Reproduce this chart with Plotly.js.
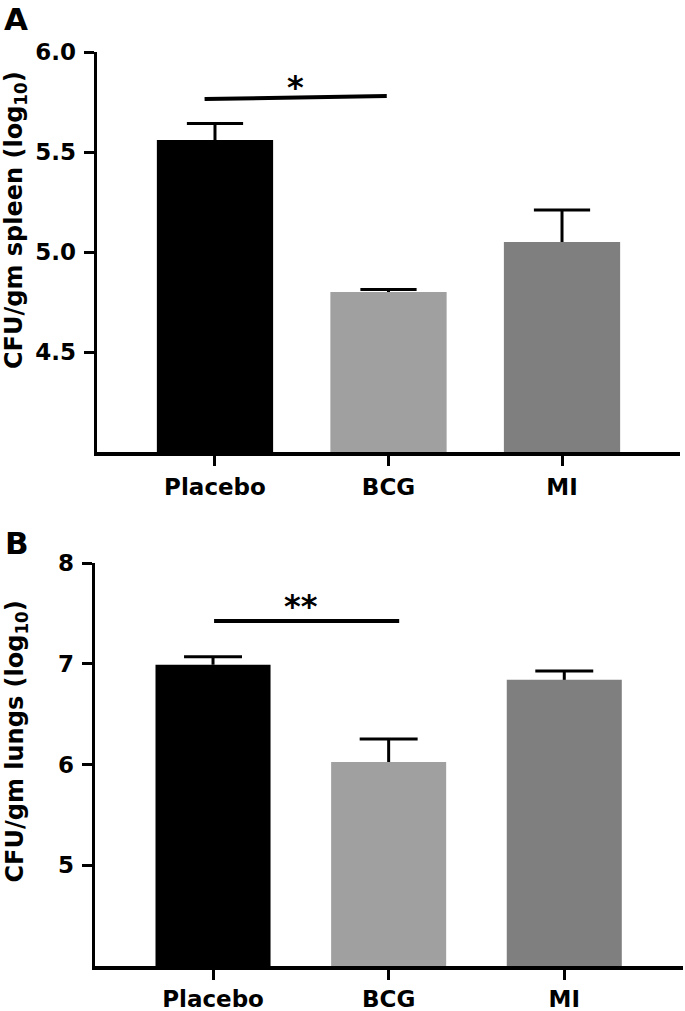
<!DOCTYPE html>
<html>
<head>
<meta charset="utf-8">
<script src="https://cdn.plot.ly/plotly-3.0.1.min.js"></script>
<style>html,body{margin:0;padding:0;background:#fff;}#chart{width:685px;height:1011px;}</style>
</head>
<body>
<div id="chart"></div>
<script>
// ---- data ----
const categories = ['Placebo', 'BCG', 'MI'];
const spleenMeans = [5.56, 4.80, 5.05];
const spleenSEM = [0.083, 0.012, 0.16];
const lungMeans = [6.99, 6.025, 6.84];
const lungSEM = [0.08, 0.228, 0.089];
const barColors = ['#000000', '#a0a0a0', '#7f7f7f'];
const spleenTicks = [4.5, 5.0, 5.5, 6.0];
const spleenTickText = ['4.5', '5.0', '5.5', '6.0'];
const lungTicks = [5, 6, 7, 8];
const lungTickText = ['5', '6', '7', '8'];
// significance bars (x in category index units, y in data units)
const sigSpleenX = [-0.06, 0.99];
const sigSpleenY = [5.765, 5.78];
const sigSpleenLabel = '*';
const sigLungX = [0.006, 1.06];
const sigLungY = [7.424, 7.424];
const sigLungLabel = '**';

const FONT = 'DejaVu Sans, Arial, sans-serif';
const idx = categories.map((c, i) => i);

function barTrace(means, xa, ya, w) {
  return {
    type: 'bar', x: idx, y: means, xaxis: xa, yaxis: ya, width: w,
    marker: {color: barColors, line: {width: 0}},
    showlegend: false, hoverinfo: 'skip'
  };
}
// upper-only error bars (stem from mean to mean+SEM, cap at the top)
function errTrace(means, sem, xa, ya, capHalf) {
  const xs = [], ys = [];
  means.forEach((m, i) => {
    const top = m + sem[i];
    xs.push(i, i, null, i - capHalf, i + capHalf, null);
    ys.push(m, top, null, top, top, null);
  });
  return {type: 'scatter', mode: 'lines', x: xs, y: ys, xaxis: xa, yaxis: ya,
          line: {color: '#000', width: 3}, connectgaps: false, showlegend: false, hoverinfo: 'skip'};
}
function sigTrace(xs, ys, xa, ya) {
  return {type: 'scatter', mode: 'lines', x: xs, y: ys, xaxis: xa, yaxis: ya,
          line: {color: '#000', width: 4}, showlegend: false, hoverinfo: 'skip'};
}

const data = [
  barTrace(spleenMeans, 'x', 'y', 0.67),
  errTrace(spleenMeans, spleenSEM, 'x', 'y', 0.162),
  sigTrace(sigSpleenX, sigSpleenY, 'x', 'y'),
  barTrace(lungMeans, 'x2', 'y2', 0.655),
  errTrace(lungMeans, lungSEM, 'x2', 'y2', 0.165),
  sigTrace(sigLungX, sigLungY, 'x2', 'y2')
];

const W = 685, H = 1011;
const tickFont = {family: FONT, size: 23, color: '#000', weight: 'bold'};
function xAxis(domain, anchor, range, standoff) {
  return {domain: domain, anchor: anchor, range: range, tickmode: 'array', tickvals: idx, ticktext: categories,
          showline: true, linecolor: '#000', linewidth: 3.5, ticks: 'outside', ticklen: 10, tickwidth: 3,
          tickcolor: '#000', showgrid: false, zeroline: false, tickfont: tickFont, ticklabelstandoff: standoff,
          fixedrange: true};
}
function yAxis(domain, anchor, range, vals, text) {
  return {domain: domain, anchor: anchor, range: range, tickmode: 'array', tickvals: vals, ticktext: text,
          showline: true, linecolor: '#000', linewidth: 3.5, ticks: 'outside', ticklen: 10, tickwidth: 3,
          tickcolor: '#000', showgrid: false, zeroline: false, tickfont: tickFont, ticklabelstandoff: 3,
          fixedrange: true};
}

const layout = {
  width: W, height: H,
  margin: {l: 0, r: 0, t: 0, b: 0},
  paper_bgcolor: '#fff', plot_bgcolor: '#fff',
  showlegend: false,
  xaxis: xAxis([97 / W, 680 / W], 'y', [-0.68, 2.68], 2),
  yaxis: yAxis([1 - 452 / H, 1 - 52 / H], 'x', [4, 6], spleenTicks, spleenTickText),
  xaxis2: xAxis([95 / W, 683 / W], 'y2', [-0.672, 2.676], 0),
  yaxis2: yAxis([1 - 966 / H, 1 - 563 / H], 'x2', [4, 8], lungTicks, lungTickText),
  annotations: [
    {text: 'A', xref: 'paper', yref: 'paper', x: 15.5 / W, y: 1 - 19 / H, xanchor: 'center', yanchor: 'middle',
     showarrow: false, font: {family: FONT, size: 31, color: '#000', weight: 'bold'}},
    {text: 'B', xref: 'paper', yref: 'paper', x: 16.5 / W, y: 1 - 543 / H, xanchor: 'center', yanchor: 'middle',
     showarrow: false, font: {family: FONT, size: 31, color: '#000', weight: 'bold'}},
    {text: 'CFU/gm spleen (log<sub>10</sub>)', xref: 'paper', yref: 'paper', x: 15 / W, y: 1 - 220 / H,
     xanchor: 'center', yanchor: 'middle', textangle: -90, showarrow: false,
     font: {family: FONT, size: 24, color: '#000', weight: 'bold'}},
    {text: 'CFU/gm lungs (log<sub>10</sub>)', xref: 'paper', yref: 'paper', x: 15.5 / W, y: 1 - 742 / H,
     xanchor: 'center', yanchor: 'middle', textangle: -90, showarrow: false,
     font: {family: FONT, size: 24, color: '#000', weight: 'bold'}},
    {text: sigSpleenLabel, xref: 'x', yref: 'y', x: (sigSpleenX[0] + sigSpleenX[1]) / 2, y: sigSpleenY[1],
     xanchor: 'center', yanchor: 'bottom', yshift: -12, showarrow: false,
     font: {family: FONT, size: 32, color: '#000', weight: 'bold'}},
    {text: sigLungLabel, xref: 'x2', yref: 'y2', x: (sigLungX[0] + sigLungX[1]) / 2 - 0.03, y: sigLungY[0],
     xanchor: 'center', yanchor: 'bottom', yshift: -6, showarrow: false,
     font: {family: FONT, size: 32, color: '#000', weight: 'bold'}}
  ]
};

Plotly.newPlot('chart', data, layout, {displayModeBar: false, staticPlot: true});
</script>
</body>
</html>
